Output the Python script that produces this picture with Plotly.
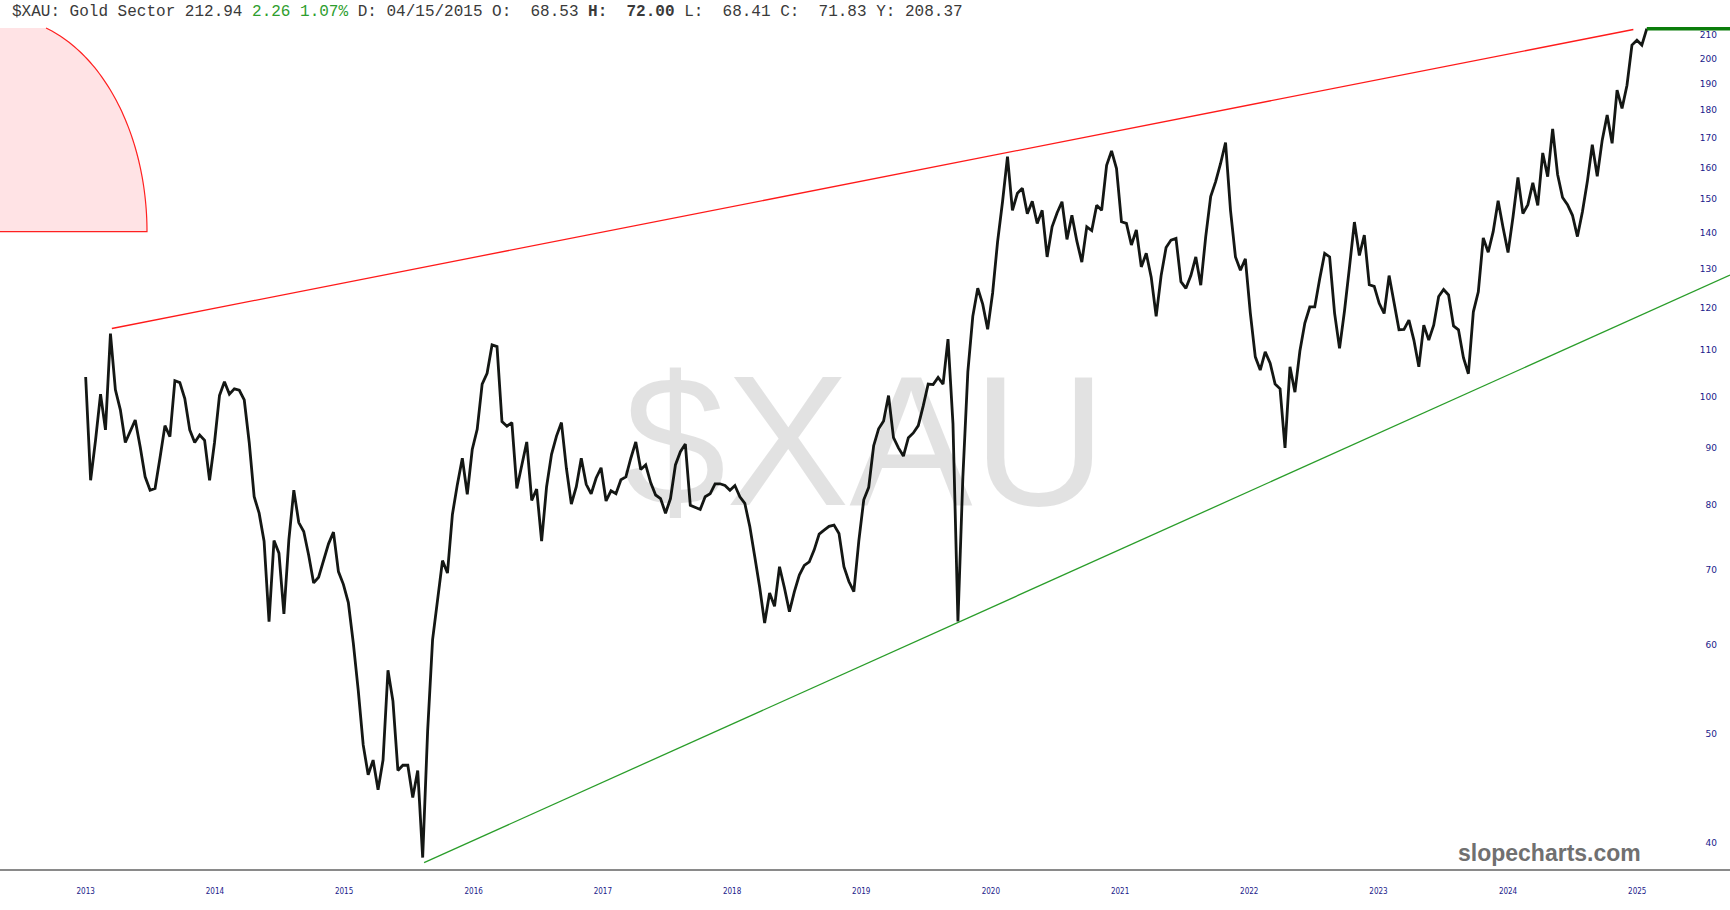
import numpy as np
import pandas as pd
import plotly.graph_objects as go

# ---------------- data ----------------
start_date = "2013-07-01"   # first sample; samples every 14 days
close = [
    104.1, 84.2, 91.5, 100.5, 93.4, 113.8, 101.4, 97.3, 91.0, 93.1,
    95.3, 90.2, 84.8, 82.5, 82.8, 88.2, 94.2, 92.1, 103.3, 102.9,
    99.6, 93.4, 91.0, 92.4, 91.4, 84.2, 91.0, 100.2, 103.1, 100.5,
    101.6, 101.3, 99.3, 91.0, 81.4, 78.7, 74.3, 63.0, 74.4, 72.5,
    64.0, 74.5, 82.5, 77.2, 75.8, 72.2, 68.2, 69.0, 71.5, 73.9,
    75.7, 69.8, 68.0, 65.5, 60.3, 54.7, 48.9, 46.0, 47.4, 44.6,
    47.4, 57.0, 53.5, 46.4, 46.9, 46.9, 43.9, 46.4, 38.8, 50.3,
    60.7, 65.7, 71.4, 69.6, 78.5, 83.5, 88.1, 81.8, 89.7, 93.5,
    102.6, 104.9, 111.2, 110.8, 95.0, 94.1, 94.8, 82.8, 86.6, 91.1,
    80.8, 82.7, 74.3, 83.1, 88.8, 92.2, 94.8, 86.3, 80.2, 83.1,
    88.1, 83.5, 81.9, 84.6, 86.4, 80.7, 82.4, 81.9, 84.3, 84.8,
    88.1, 91.1, 86.1, 86.9, 83.8, 81.7, 81.1, 78.7, 81.1, 86.9,
    89.3, 90.7, 80.0, 79.6, 79.3, 81.4, 81.9,
    83.6, 83.6, 83.3, 82.5, 83.3, 81.4, 80.3, 76.6, 72.0, 67.6,
    62.8, 66.8, 65.0, 70.5, 67.5, 64.3, 67.0, 69.3, 70.7, 71.2,
    73.0, 75.4, 76.0, 76.6, 76.8, 75.5, 70.5, 68.4, 67.0, 74.3,
    80.9, 83.0, 90.4, 93.6, 95.1, 100.2, 91.9, 90.0, 88.5, 91.9,
    92.8, 94.2, 98.1, 102.6, 102.5, 104.0, 102.6, 112.5, 94.6, 63.0,
    84.8, 105.2, 117.9, 124.9, 120.9, 114.8, 123.7, 137.4, 149.2, 163.7,
    146.6, 151.8, 153.4, 145.6,
    149.3, 142.7, 146.6, 133.2, 141.7, 145.8, 149.2, 138.1, 145.1, 137.6,
    131.8, 141.7, 140.6, 148.1, 146.6, 160.8, 165.6, 159.7, 143.2, 142.7,
    136.5, 140.8, 130.5, 134.2, 127.8, 117.9, 128.2, 135.8, 137.9, 138.4,
    126.6, 124.9, 128.2, 133.2, 125.7, 138.9, 150.8, 155.5, 161.4, 168.5,
    146.6, 133.2, 129.6, 132.7, 118.7, 108.5, 105.6, 109.6, 107.1, 102.6,
    101.6, 90.0, 106.3, 100.9, 109.8, 116.3, 120.2, 120.2, 127.4, 134.2,
    133.2, 118.7, 110.4, 119.2, 130.4, 143.1, 133.6, 139.3, 125.8, 125.4,
    121.1, 118.6, 128.2, 121.5, 114.7, 114.8, 117.0, 112.3, 106.3, 115.8,
    112.3, 115.8, 122.8, 124.6, 123.2, 115.6, 114.7, 108.3, 104.8, 119.0,
    124.0, 138.5, 134.5, 140.3, 149.5, 141.4, 134.4, 144.6, 156.8, 145.6,
    148.3, 155.1, 148.1, 164.9, 157.1, 173.3, 157.8, 150.5, 148.3, 145.1,
    138.9, 146.1, 155.5, 167.7, 157.2, 169.3, 178.3, 168.2, 187.6, 180.7,
    189.5, 205.8, 207.9, 205.8, 212.9,
]
dates = pd.date_range(start_date, periods=len(close), freq="14D")

# trend line anchors (date, price)
upper_dates = ["2013-09-13", "2025-06-20"]
upper_vals = [115.0, 212.5]
lower_dates = ["2016-02-12", "2020-03-26"]
lower_vals = [38.4, 62.8]

x_range = ["2012-11-01", "2026-03-20"]
year_labels = [str(y) for y in range(2013, 2026)]
year_tickvals = [f"{y}-07-01" for y in range(2013, 2026)]
price_ticks = list(range(40, 220, 10))

# ---------------- figure ----------------
W, H = 1730, 910
T, B = 27, 41
plot_h = H - T - B


def px_x(px):
    return px / W


def px_y(py):
    return (H - B - py) / plot_h


fig = go.Figure()

# price
fig.add_trace(go.Scatter(
    x=dates, y=close, mode="lines",
    line=dict(color="#141714", width=2.8),
    hoverinfo="skip", showlegend=False,
))

# upper (red) trend line
fig.add_trace(go.Scatter(
    x=pd.to_datetime(upper_dates), y=upper_vals, mode="lines",
    line=dict(color="#ff1a1a", width=1.3), hoverinfo="skip", showlegend=False,
))

# lower (green) trend line, extended to right edge (log-linear)
ld = pd.to_datetime(lower_dates)
t0, t1 = ld[0].value, ld[1].value
tend = pd.Timestamp(x_range[1]).value
slope = (np.log(lower_vals[1]) - np.log(lower_vals[0])) / (t1 - t0)
v_end = float(np.exp(np.log(lower_vals[0]) + slope * (tend - t0)))
fig.add_trace(go.Scatter(
    x=[ld[0], pd.Timestamp(x_range[1])], y=[lower_vals[0], v_end], mode="lines",
    line=dict(color="#2a9d2a", width=1.3), hoverinfo="skip", showlegend=False,
))

# last price line
fig.add_trace(go.Scatter(
    x=[dates[-1], pd.Timestamp(x_range[1])], y=[close[-1], close[-1]], mode="lines",
    line=dict(color="#0a7d0a", width=4), hoverinfo="skip", showlegend=False,
))

# quarter ellipse decoration (top-left)
cx, cy, a, b, top = 0.0, 231.7, 147.0, 214.5, 28.0
th_max = np.arcsin((cy - top) / b)
th = np.linspace(0, th_max, 60)
arc = [(cx + a * np.cos(t), cy - b * np.sin(t)) for t in th]
fill_path = f"M {px_x(0)},{px_y(cy)} " + " ".join(
    f"L {px_x(x)},{px_y(y)}" for x, y in arc) + f" L {px_x(0)},{px_y(top)} Z"
line_path = f"M {px_x(0)},{px_y(cy)} " + " ".join(
    f"L {px_x(x)},{px_y(y)}" for x, y in arc)
fig.add_shape(type="path", path=fill_path, xref="paper", yref="paper",
              fillcolor="#ffe3e5", line=dict(width=0), layer="below")
fig.add_shape(type="path", path=line_path, xref="paper", yref="paper",
              line=dict(color="#ff2020", width=1.2), layer="above")

# watermark
fig.add_annotation(text="$XAU", x=px_x(864), y=px_y(441), xref="paper", yref="paper",
                   showarrow=False, xanchor="center", yanchor="middle",
                   font=dict(family="Liberation Sans, Arial", size=185, color="rgba(0,0,0,0.115)"))

# header
header = ("$XAU: Gold Sector 212.94 <span style='color:#2e9e2e'>2.26 1.07%</span> "
          "D: 04/15/2015 O:  68.53 <b>H:</b>  <b>72.00</b> L:  68.41 C:  71.83 Y: 208.37")
fig.add_annotation(text=header, x=px_x(10), y=px_y(12), xref="paper", yref="paper",
                   showarrow=False, xanchor="left", yanchor="middle",
                   font=dict(family="Liberation Mono, Courier New, monospace", size=16, color="#3a3a3a"))

# brand
fig.add_annotation(text="<b>slopecharts.com</b>", x=px_x(1643), y=px_y(853), xref="paper", yref="paper",
                   showarrow=False, xanchor="right", yanchor="middle",
                   font=dict(family="Liberation Sans, Arial", size=23, color="#707070"))

fig.update_layout(
    width=W, height=H,
    margin=dict(l=0, r=0, t=T, b=B, pad=0),
    paper_bgcolor="white", plot_bgcolor="white",
    showlegend=False,
    xaxis=dict(
        type="date", range=x_range, tickvals=year_tickvals, ticktext=year_labels,
        showgrid=False, zeroline=False, showline=True, linecolor="#8a8a8a", linewidth=2,
        ticks="", tickfont=dict(family="DejaVu Sans Condensed, DejaVu Sans", size=8, color="#1a1a8a"),
        ticklabelstandoff=13,
    ),
    yaxis=dict(
        type="log", range=[np.log10(37.9), np.log10(213.6)],
        side="right", ticklabelposition="inside", tickvals=price_ticks,
        ticktext=[str(v) for v in price_ticks],
        showgrid=False, zeroline=False, showline=False, ticks="",
        tickfont=dict(family="DejaVu Sans", size=9, color="#1a1a8a"),
        ticklabelstandoff=10,
    ),
)

fig.write_html("out.html", config={"displayModeBar": False},
               post_script="document.body.style.margin='0';")
